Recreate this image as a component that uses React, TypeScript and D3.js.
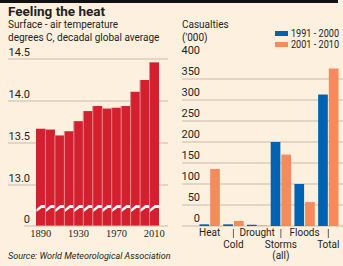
import React from 'react';
import * as d3 from 'd3';

// Left panel: decadal surface-air temperature
const decades = ['1890', '1900', '1910', '1920', '1930', '1940', '1950', '1960', '1970', '1980', '1990', '2000', '2010'];
const temps = [13.67, 13.66, 13.59, 13.64, 13.76, 13.88, 13.94, 13.91, 13.92, 13.94, 14.11, 14.25, 14.46];
const tempTicks = [13.0, 13.5, 14.0, 14.5];
const yearLabels = ['1890', '1930', '1970', '2010'];

// Right panel: casualties ('000)
const categories = ['Heat', 'Cold', 'Drought', 'Storms (all)', 'Floods', 'Total'];
const series = ['1991 - 2000', '2001 - 2010'];
const casualties1990s = [4, 4, 3, 200, 100, 313];
const casualties2000s = [136, 12, 1, 170, 57, 375];
const casualtyTicks = [0, 50, 100, 150, 200, 250, 300, 350, 400];

const W = 343, H = 266;
const BG = '#fdf0df';
const GRID = '#c9b9a6';
const INK = '#231f20';
const RED = '#d3202f';
const BLUE = '#0063b1';
const ORANGE = '#f58b5c';
const SANS = '"Liberation Sans Narrow", Roboto, "Liberation Sans", sans-serif';
const SERIF = '"Liberation Serif", "DejaVu Serif", serif';

const App = () => {
  // left scales
  const xL = d3.scaleBand<string>().domain(decades).range([36, 159]).padding(0);
  const yL = d3.scaleLinear().domain([13, 14.5]).range([185, 59]);
  const baseL = 226;

  // right scales
  const xR = d3.scaleBand<string>().domain(categories).range([199, 339]).paddingInner(0.1);
  const xS = d3.scaleBand<string>().domain(series).range([0, xR.bandwidth()]);
  const yR = d3.scaleLinear().domain([0, 400]).range([226, 58]);
  const colors = d3.scaleOrdinal<string, string>().domain(series).range([BLUE, ORANGE]);
  const values = [casualties1990s, casualties2000s];

  const lowerRow = new Set(['Cold', 'Storms (all)', 'Total']);

  return (
    <svg width={W} height={H} style={{ position: 'absolute', left: 0, top: 0, background: BG }} fontFamily={SANS}>
      <rect x={0} y={0} width={W} height={H} fill={BG} />
      <rect x={0} y={0} width={338} height={3} fill="#111" />

      {/* titles */}
      <text x={8} y={16} fontSize={13.5} fontWeight="bold" fill={INK} fontFamily='Roboto, sans-serif'>Feeling the heat</text>
      <text x={8} y={28} fontSize={10} fill={INK}>Surface - air temperature</text>
      <text x={8} y={41} fontSize={10} fill={INK}>degrees C, decadal global average</text>

      {/* left gridlines */}
      {tempTicks.map(t => (
        <g key={t}>
          <line x1={8} x2={168} y1={yL(t)} y2={yL(t)} stroke={GRID} strokeWidth={1} />
          <text x={30} y={yL(t) - 3} textAnchor="end" fontSize={11} fill={INK}>{t.toFixed(1)}</text>
        </g>
      ))}
      <text x={30} y={baseL - 3} textAnchor="end" fontSize={11} fill={INK}>0</text>

      {/* left bars */}
      {decades.map((d, i) => {
        const x0 = xL(d)!;
        const w = xL.bandwidth();
        const top = yL(temps[i]);
        return (
          <g key={d}>
            <rect x={x0} y={top} width={w} height={baseL - top} fill={RED} />
            {i > 0 && <line x1={x0} x2={x0} y1={top} y2={baseL} stroke="#e9848b" strokeWidth={1} />}
            <polygon
              points={`${x0 + 0.5},${212} ${x0 + 0.5},${209} ${x0 + w * 0.55},${205} ${x0 + w},${205} ${x0 + w},${208} ${x0 + w * 0.6},${208}`}
              fill="#fff"
            />
          </g>
        );
      })}
      <line x1={24} x2={168} y1={baseL} y2={baseL} stroke={GRID} strokeWidth={1} />
      {yearLabels.map(y => (
        <text key={y} x={xL(y)! + xL.bandwidth() / 2} y={237} textAnchor="middle" fontSize={10.5} fill={INK} fontFamily={SERIF}>{y}</text>
      ))}

      <text x={8} y={259} fontSize={9} fontStyle="italic" fill={INK}>Source: World Meteorological Association</text>

      {/* right panel */}
      <text x={182} y={28} fontSize={10} fill={INK}>Casualties</text>
      <text x={182} y={41} fontSize={10} fill={INK}>('000)</text>

      {series.map((s, i) => (
        <g key={s}>
          <rect x={275} y={31 + i * 11} width={13} height={5} fill={colors(s)} />
          <text x={291} y={37 + i * 11} fontSize={10} fill={INK} textLength={48} lengthAdjust="spacingAndGlyphs">{s}</text>
        </g>
      ))}

      {casualtyTicks.map(t => (
        <g key={t}>
          {t > 0 && t < 400 && <line x1={182} x2={W} y1={yR(t)} y2={yR(t)} stroke={GRID} strokeWidth={1} />}
          <text x={200} y={yR(t) - 4} textAnchor="end" fontSize={11} fill={INK}>{t}</text>
        </g>
      ))}
      <line x1={182} x2={W} y1={yR(0)} y2={yR(0)} stroke={GRID} strokeWidth={1} />

      {categories.map((c, ci) => (
        <g key={c} transform={`translate(${xR(c)},0)`}>
          {series.map((s, si) => {
            const v = values[si][ci];
            return (
              <rect key={s} x={xS(s)! + 0.5} y={yR(v)} width={xS.bandwidth() - 1} height={yR(0) - yR(v)} fill={colors(s)} />
            );
          })}
        </g>
      ))}

      {categories.map(c => {
        const cx = xR(c)! + xR.bandwidth() / 2;
        const lower = lowerRow.has(c);
        const lines = c === 'Storms (all)' ? ['Storms', '(all)'] : [c];
        return (
          <g key={c}>
            {lower && <line x1={cx} x2={cx} y1={229} y2={238} stroke={INK} strokeWidth={0.7} />}
            {lines.map((l, li) => (
              <text key={l} x={cx} y={(lower ? 248 : 236) + li * 11} textAnchor="middle" fontSize={10} fill={INK}>{l}</text>
            ))}
          </g>
        );
      })}
    </svg>
  );
};

export default App;
